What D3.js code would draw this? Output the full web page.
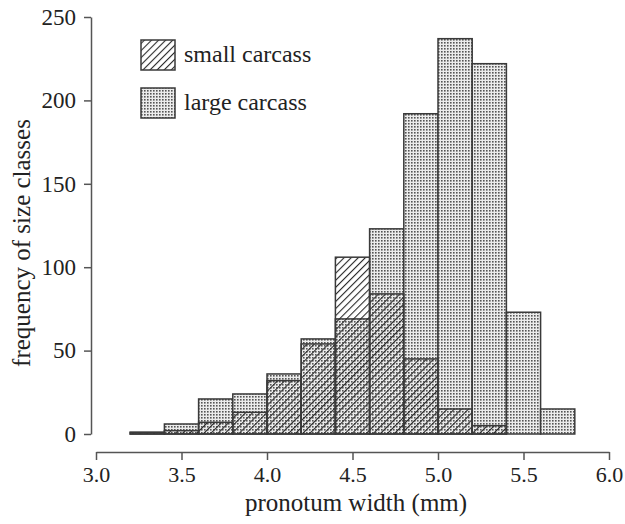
<!DOCTYPE html>
<html>
<head>
<meta charset="utf-8">
<script src="https://cdn.jsdelivr.net/npm/d3@7"></script>
<style>
  body { margin: 0; background: #fff; }
  svg text { font-family: "Liberation Serif", "DejaVu Serif", serif; fill: #222; }
</style>
</head>
<body>
<div id="canvas"></div>
<script>
// bin lower edges (mm), bin width 0.2
var binStarts = [3.2, 3.4, 3.6, 3.8, 4.0, 4.2, 4.4, 4.6, 4.8, 5.0, 5.2, 5.4, 5.6];
var binWidth = 0.2;
var largeCounts = [1, 6, 21, 24, 36, 57, 69, 123, 192, 237, 222, 73, 15];
var smallCounts = [1, 2, 7, 13, 32, 54, 106, 84, 45, 15, 5, 0, 0];
var xTicks = [3.0, 3.5, 4.0, 4.5, 5.0, 5.5, 6.0];
var yTicks = [0, 50, 100, 150, 200, 250];
var legendLabels = ["small carcass", "large carcass"];

function drawGraph() {
    var width = 625, height = 524;

    var svg = d3.select("#canvas")
                .append("svg")
                    .attr("width", width)
                    .attr("height", height);

    // patterns: dotted for large, hatched for small
    var defs = svg.append("defs");
    var dots = defs.append("pattern")
        .attr("id", "dots")
        .attr("patternUnits", "userSpaceOnUse")
        .attr("width", 3).attr("height", 3);
    dots.append("rect").attr("width", 3).attr("height", 3).attr("fill", "#ececec");
    dots.append("rect").attr("width", 1.6).attr("height", 1.6).attr("fill", "#555");

    var hatch = defs.append("pattern")
        .attr("id", "hatch")
        .attr("patternUnits", "userSpaceOnUse")
        .attr("width", 5).attr("height", 5)
        .attr("patternTransform", "rotate(45)");
    hatch.append("line")
        .attr("x1", 0).attr("y1", 0).attr("x2", 0).attr("y2", 5)
        .attr("stroke", "#2a2a2a")
        .attr("stroke-width", 2.2);

    var xScale = d3.scaleLinear().domain([3.0, 6.0]).range([96, 609]);
    var yScale = d3.scaleLinear().domain([0, 250]).range([434, 17]);

    // large carcass bars (dotted)
    svg.selectAll("rect.large")
        .data(largeCounts)
        .enter().append("rect")
        .attr("class", "large")
        .attr("x", function(d, i) { return xScale(binStarts[i]); })
        .attr("y", function(d) { return yScale(d); })
        .attr("width", function(d, i) { return xScale(binStarts[i] + binWidth) - xScale(binStarts[i]); })
        .attr("height", function(d) { return yScale(0) - yScale(d); })
        .attr("fill", "url(#dots)")
        .attr("stroke", "#3a3a3a")
        .attr("stroke-width", 1.5);

    // small carcass bars (hatched, drawn over)
    svg.selectAll("rect.small")
        .data(smallCounts)
        .enter().append("rect")
        .attr("class", "small")
        .attr("x", function(d, i) { return xScale(binStarts[i]); })
        .attr("y", function(d) { return yScale(d); })
        .attr("width", function(d, i) { return xScale(binStarts[i] + binWidth) - xScale(binStarts[i]); })
        .attr("height", function(d) { return yScale(0) - yScale(d); })
        .attr("fill", "url(#hatch)")
        .attr("stroke", function(d) { return d > 0 ? "#3a3a3a" : "none"; })
        .attr("stroke-width", 1.5);

    // y axis (offset left)
    var yAxis = d3.axisLeft(yScale)
        .tickValues(yTicks)
        .tickSize(7)
        .tickSizeOuter(0)
        .tickPadding(8);
    var gy = svg.append("g")
        .attr("class", "y axis")
        .attr("transform", "translate(91,0)")
        .call(yAxis);
    gy.selectAll("text").attr("font-size", "23px");

    // x axis (offset below)
    var xAxis = d3.axisBottom(xScale)
        .tickValues(xTicks)
        .tickFormat(d3.format(".1f"))
        .tickSize(8)
        .tickSizeOuter(0)
        .tickPadding(6);
    var gx = svg.append("g")
        .attr("class", "x axis")
        .attr("transform", "translate(0,452)")
        .call(xAxis);
    gx.selectAll("text").attr("font-size", "22px");

    svg.selectAll(".axis path, .axis line")
        .attr("stroke", "#555")
        .attr("stroke-width", 1.5);
    svg.selectAll(".axis text").attr("fill", "#222");

    // axis titles
    svg.append("text")
        .attr("x", 356)
        .attr("y", 511)
        .attr("text-anchor", "middle")
        .attr("font-size", "25px")
        .text("pronotum width (mm)");

    svg.append("text")
        .attr("transform", "translate(30,243) rotate(-90)")
        .attr("text-anchor", "middle")
        .attr("font-size", "25px")
        .text("frequency of size classes");

    // legend
    var fills = ["url(#hatch)", "url(#dots)"];
    var legend = svg.append("g").attr("class", "legend");
    legend.selectAll("rect")
        .data(legendLabels)
        .enter().append("rect")
        .attr("x", 141)
        .attr("y", function(d, i) { return 40 + i * 48; })
        .attr("width", 34)
        .attr("height", 30)
        .attr("fill", function(d, i) { return fills[i]; })
        .attr("stroke", "#3a3a3a")
        .attr("stroke-width", 1.5);
    legend.selectAll("text")
        .data(legendLabels)
        .enter().append("text")
        .attr("x", 184)
        .attr("y", function(d, i) { return 62 + i * 48; })
        .attr("font-size", "24px")
        .text(function(d) { return d; });
}

drawGraph();
</script>
</body>
</html>
